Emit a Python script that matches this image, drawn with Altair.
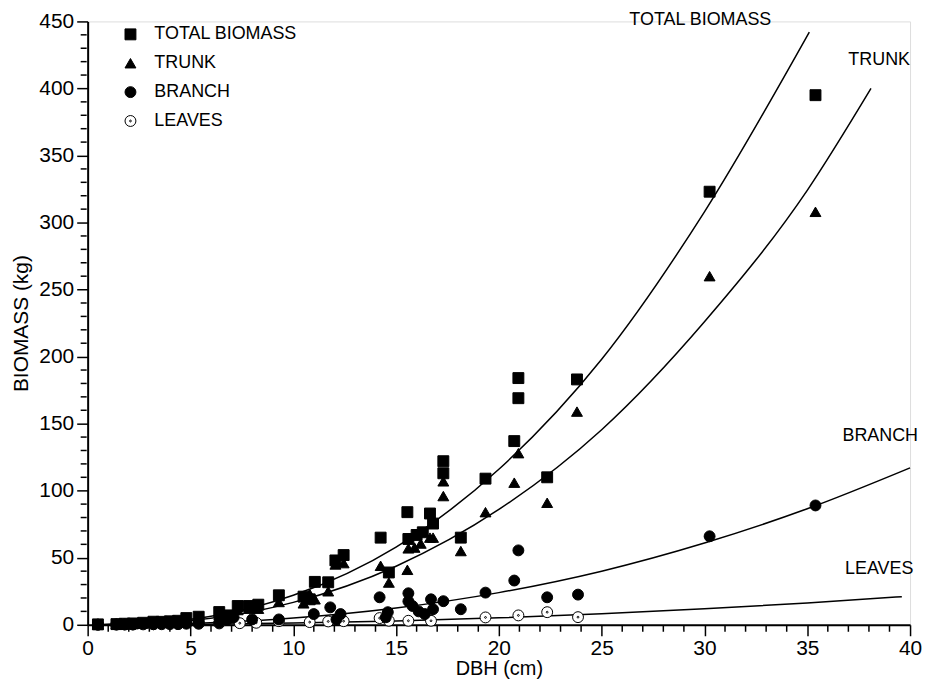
import altair as alt
import pandas as pd

SERIES = ["TOTAL BIOMASS", "TRUNK", "BRANCH", "LEAVES"]
DRAW_ORDER = {"LEAVES": 0, "TOTAL BIOMASS": 1, "TRUNK": 2, "BRANCH": 3}

# ---- measured points (DBH cm, biomass kg) ----
total_dbh = [0.5, 1.4, 1.8, 2.2, 2.7, 3.2, 3.6, 4.0, 4.4, 4.8, 5.4, 6.4, 6.9, 7.3, 7.85, 8.3,
             9.3, 10.5, 10.8, 11.05, 11.7, 12.05, 12.45, 14.25, 14.65, 15.55, 15.6, 16.0, 16.3,
             16.65, 16.8, 17.3, 17.3, 18.15, 19.35, 20.75, 20.95, 20.95, 22.35, 23.8, 30.25, 35.4]
total_kg = [0.3, 0.5, 0.8, 1.0, 1.5, 2.3, 2.2, 2.6, 3.0, 5.0, 6.0, 9.5, 7.0, 14.0, 14.0, 15.0,
            22.0, 21.0, 19.0, 32.0, 31.7, 48.0, 52.0, 65.0, 39.0, 84.0, 64.0, 67.0, 69.0,
            83.0, 75.5, 122.0, 113.0, 65.0, 109.0, 137.0, 184.0, 169.0, 110.0, 183.0, 323.0, 395.0]

trunk_dbh = [0.5, 1.4, 1.8, 2.2, 2.7, 3.2, 3.6, 4.0, 4.4, 4.8, 5.4, 6.4, 6.9, 7.3, 7.85, 8.3,
             9.3, 10.5, 10.8, 11.05, 11.7, 12.05, 12.45, 14.25, 14.65, 15.55, 15.6, 15.9, 16.2,
             16.65, 16.8, 17.3, 17.3, 18.15, 19.35, 20.75, 20.95, 22.35, 23.8, 30.25, 35.4]
trunk_kg = [0.2, 0.4, 0.6, 0.8, 1.2, 1.6, 1.8, 2.0, 2.4, 3.2, 4.0, 7.5, 5.5, 11.0, 12.0, 12.0,
            17.0, 16.0, 23.0, 19.0, 25.0, 45.0, 46.0, 44.0, 31.5, 41.0, 57.0, 57.6, 60.6,
            65.0, 65.0, 107.0, 96.0, 55.0, 84.0, 106.0, 128.0, 91.0, 159.0, 260.0, 308.0]

branch_dbh = [0.5, 1.4, 1.8, 2.2, 2.7, 3.2, 3.6, 4.0, 4.4, 4.8, 5.4, 6.4, 6.8, 7.1, 8.0, 9.3,
              11.0, 11.8, 12.1, 12.3, 14.2, 14.5, 14.6, 15.6, 15.6, 15.8, 16.1, 16.4, 16.7,
              16.8, 17.3, 18.15, 19.35, 20.75, 20.95, 22.35, 23.85, 30.25, 35.4]
branch_kg = [0.1, 0.2, 0.2, 0.2, 0.3, 0.4, 0.4, 0.5, 0.6, 0.8, 1.0, 1.5, 4.0, 5.6, 4.0, 4.0,
             8.0, 13.0, 4.0, 8.0, 20.5, 5.6, 9.4, 23.5, 17.5, 14.0, 10.0, 8.0, 19.0,
             11.6, 17.6, 11.6, 24.0, 33.0, 55.5, 20.5, 22.5, 66.0, 89.0]

leaves_dbh = [0.5, 1.4, 1.8, 2.2, 3.2, 4.4, 5.4, 6.4, 7.4, 8.2, 9.3, 10.8, 11.7, 12.45,
              14.2, 14.65, 15.6, 16.7, 19.35, 20.95, 22.35, 23.85]
leaves_kg = [0.1, 0.2, 0.3, 0.3, 0.4, 0.5, 0.8, 1.0, 1.2, 1.5, 2.7, 2.0, 2.5, 2.7,
             5.0, 3.0, 3.0, 3.0, 5.5, 7.0, 9.4, 5.7]

# ---- fitted curves ----
total_curve_x = [0.5, 5, 10, 15, 20, 25, 30, 35.1]
total_curve_y = [0.05, 4.2, 22, 58, 116, 198, 308, 442]
trunk_curve_x = [0.5, 5, 10, 15, 20, 25, 30, 35, 38.1]
trunk_curve_y = [0.05, 3.2, 16.7, 43.7, 86, 145.5, 226, 324, 400]
branch_curve_x = [0.5, 5, 10, 15, 20, 25, 30, 35, 40]
branch_curve_y = [0.0, 1.0, 5.0, 12.5, 24, 40, 61, 86.5, 117]
leaves_curve_x = [0.5, 5, 10, 15, 20, 25, 30, 35, 39.6]
leaves_curve_y = [0.0, 0.3, 1.3, 2.9, 5.2, 8.2, 11.9, 16.3, 21]

# ---- curve labels ----
label_text = ["TOTAL BIOMASS", "TRUNK", "BRANCH", "LEAVES"]
label_x = [29.8, 38.5, 38.55, 38.5]
label_y = [451, 421.5, 140.8, 41.4]

# ---- axis ticks ----
x_major = [0, 5, 10, 15, 20, 25, 30, 35, 40]
x_minor = [v for v in range(0, 41) if v % 5 != 0]
y_major = list(range(0, 451, 50))
y_minor = [v for v in range(0, 451, 10) if v % 50 != 0]

LEAF_PATH = ("M-1,0A1,1 0 1,0 1,0A1,1 0 1,0 -1,0Z"
             "M-0.17,0A0.17,0.17 0 1,0 0.17,0A0.17,0.17 0 1,0 -0.17,0Z")

rows = []
for name, xs, ys in [("TOTAL BIOMASS", total_dbh, total_kg), ("TRUNK", trunk_dbh, trunk_kg),
                     ("BRANCH", branch_dbh, branch_kg), ("LEAVES", leaves_dbh, leaves_kg)]:
    for a, b in zip(xs, ys):
        rows.append({"series": name, "dbh": a, "kg": b, "order": DRAW_ORDER[name]})
points = pd.DataFrame(rows)

crows = []
for name, xs, ys in [("total", total_curve_x, total_curve_y), ("trunk", trunk_curve_x, trunk_curve_y),
                     ("branch", branch_curve_x, branch_curve_y), ("leaves", leaves_curve_x, leaves_curve_y)]:
    for a, b in zip(xs, ys):
        crows.append({"curve": name, "dbh": a, "kg": b})
curves = pd.DataFrame(crows)

labels = pd.DataFrame({"text": label_text, "dbh": label_x, "kg": label_y})
xminor_df = pd.DataFrame({"v": x_minor})
yminor_df = pd.DataFrame({"v": y_minor})

FONT = "Liberation Sans"

x_scale = alt.Scale(domain=[0, 40], nice=False, zero=False)
y_scale = alt.Scale(domain=[0, 450], nice=False)

x_axis = alt.Axis(
    title="DBH (cm)", values=x_major, tickSize=11,
    grid=False, domainColor="black", domainWidth=2, tickColor="black", tickWidth=1.5,
    labelFont=FONT, labelFontSize=21, labelColor="black", labelPadding=2,
    labelFlush=False,
    titleFont=FONT, titleFontSize=20, titleFontWeight="normal", titleColor="black",
    titlePadding=0,
)
y_axis = alt.Axis(
    title="BIOMASS (kg)", values=y_major, tickSize=11,
    grid=False, domainColor="black", domainWidth=2, tickColor="black", tickWidth=1.5,
    labelFont=FONT, labelFontSize=21, labelColor="black", labelPadding=3,
    labelFlush=False,
    titleFont=FONT, titleFontSize=21, titleFontWeight="normal", titleColor="black",
    titlePadding=7,
)

legend = alt.Legend(
    title=None, orient="none", legendX=34, legendY=4,
    labelFont=FONT, labelFontSize=18, labelColor="black", labelOffset=15,
    symbolSize=120, symbolStrokeWidth=1,
    rowPadding=11, padding=0,
)

pts = alt.Chart(points).mark_point(size=120, strokeWidth=1, opacity=1).encode(
    x=alt.X("dbh:Q", scale=x_scale, axis=x_axis),
    y=alt.Y("kg:Q", scale=y_scale, axis=y_axis),
    shape=alt.Shape("series:N", scale=alt.Scale(domain=SERIES,
                    range=["square", "triangle-up", "circle", LEAF_PATH]), legend=legend),
    fill=alt.Fill("series:N", scale=alt.Scale(domain=SERIES,
                  range=["black", "black", "black", "white"]), legend=legend),
    stroke=alt.Stroke("series:N", scale=alt.Scale(domain=SERIES,
                      range=["black", "black", "black", "black"]), legend=legend),
    order=alt.Order("order:Q"),
)

lines = alt.Chart(curves).mark_line(color="black", strokeWidth=1.5, interpolate="monotone").encode(
    x=alt.X("dbh:Q", scale=x_scale, axis=x_axis),
    y=alt.Y("kg:Q", scale=y_scale, axis=y_axis),
    detail="curve:N",
)

txt = alt.Chart(labels).mark_text(font=FONT, fontSize=18, color="black", align="center",
                                  baseline="middle").encode(
    x=alt.X("dbh:Q", scale=x_scale, axis=x_axis),
    y=alt.Y("kg:Q", scale=y_scale, axis=y_axis),
    text="text:N",
)

xminor = alt.Chart(xminor_df).mark_tick(orient="vertical", size=6, thickness=1.5,
                                        color="black", yOffset=4, opacity=1).encode(
    x=alt.X("v:Q", scale=x_scale, axis=x_axis),
    y=alt.datum(0, scale=y_scale),
)
yminor = alt.Chart(yminor_df).mark_tick(orient="horizontal", size=6, thickness=1.5,
                                        color="black", xOffset=-4, opacity=1).encode(
    y=alt.Y("v:Q", scale=y_scale, axis=y_axis),
    x=alt.datum(0, scale=x_scale),
)

chart = alt.layer(lines, xminor, yminor, pts, txt).properties(
    width=826, height=606,
    autosize=alt.AutoSizeParams(type="none"),
    padding={"left": 80, "top": 12, "right": 13, "bottom": 62},
).configure_view(stroke=None).configure(background="white")

chart.save("out.html", embed_options={"renderer": "svg", "actions": False})
